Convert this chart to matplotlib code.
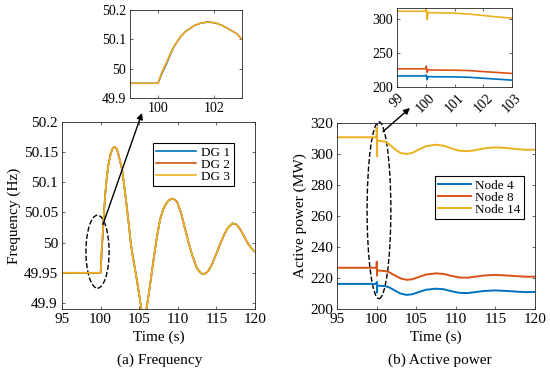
import numpy as np
import matplotlib.pyplot as plt
from matplotlib.patches import Ellipse, ConnectionPatch
from matplotlib.ticker import FormatStrFormatter

plt.rcParams['font.family'] = 'serif'
plt.rcParams['font.serif'] = ['Liberation Serif', 'DejaVu Serif']

# Frequency data (Hz)
t_f = [95, 100, 100.05, 100.15, 100.3, 100.45, 100.6, 100.8, 101.0, 101.3, 101.55, 101.8,
       102.05, 102.3, 102.55, 102.8, 103.0, 103.3, 103.6, 103.9, 104.2, 104.5, 104.8, 105.1,
       105.35, 105.55, 105.75, 106.0, 106.3, 106.6, 106.9, 107.3, 107.7, 108.1, 108.5, 108.9,
       109.4, 109.9, 110.4, 110.9, 111.4, 111.9, 112.4, 112.8, 113.2, 113.6, 114.0, 114.5,
       115.0, 115.5, 116.0, 116.5, 117.1, 117.6, 118.1, 118.6, 119.1, 119.6, 120]
dg3 = [49.95, 49.95, 49.965, 49.99, 50.02, 50.053, 50.08, 50.108, 50.128, 50.147, 50.156, 50.159,
       50.156, 50.147, 50.134, 50.12, 50.1, 50.07, 50.036, 50.0, 49.975, 49.953, 49.93, 49.905,
       49.885, 49.875, 49.878, 49.895, 49.92, 49.948, 49.975, 50.01, 50.038, 50.055, 50.065, 50.071,
       50.073, 50.068, 50.05, 50.025, 50.0, 49.978, 49.96, 49.952, 49.948, 49.949, 49.954, 49.966,
       49.982, 49.998, 50.013, 50.025, 50.032, 50.03, 50.022, 50.01, 49.998, 49.99, 49.985]
dg2 = list(dg3)
dg1 = list(dg3)
dg1[2:6] = [49.962, 49.985, 50.015, 50.05]

# Active power data (MW)
t_p = [95, 100.0, 100.02, 100.05, 100.08, 100.3, 101.0, 101.5, 102.0, 102.5, 103.0, 103.8,
       104.5, 105.3, 106.2, 107.5, 108.5, 109.5, 110.5, 111.5, 112.5, 113.5, 115.0, 116.5,
       118.0, 119.0, 120]
node14 = [310.8, 310.8, 317.0, 298.5, 309.0, 308.5, 308.0, 306.7, 304.5, 302.4, 300.7, 300.0,
          300.7, 302.8, 305.0, 306.0, 305.3, 303.5, 302.1, 301.8, 302.5, 303.6, 304.3, 303.8,
          303.0, 302.7, 302.8]
node8 = [226.6, 226.6, 230.5, 221.5, 225.0, 224.8, 224.5, 224.0, 222.5, 221.2, 219.8, 218.8,
         219.2, 220.6, 222.2, 223.0, 222.6, 221.3, 220.3, 220.2, 220.9, 221.6, 222.0, 221.6,
         221.1, 220.8, 220.9]
node4 = [216.2, 216.2, 217.5, 210.5, 215.2, 215.0, 214.8, 214.2, 212.8, 211.4, 210.0, 209.1,
         209.5, 210.9, 212.4, 213.1, 212.7, 211.4, 210.4, 210.3, 210.9, 211.6, 212.0, 211.6,
         211.1, 210.9, 211.0]

blue, red, yellow = '#0072BD', '#D95319', '#EDB120'
fs = 11


def style(ax, size=fs):
    ax.tick_params(direction='in', top=True, right=True, length=2.5, width=0.5,
                   labelsize=size, colors='0.15', labelcolor='k', pad=3)
    for s in ax.spines.values():
        s.set_linewidth(0.6)
        s.set_color('0.15')


fig = plt.figure(figsize=(5.5, 3.72), dpi=100)

# (a) Frequency
ax1 = fig.add_axes([62 / 550, 63 / 372, 193 / 550, 187 / 372])
ax1.plot(t_f, dg1, color=blue, lw=1.2, label='DG 1')
ax1.plot(t_f, dg2, color=red, lw=1.2, label='DG 2')
ax1.plot(t_f, dg3, color=yellow, lw=1.2, label='DG 3')
ax1.set_xlim(95, 120)
ax1.set_ylim(49.89, 50.2)
ax1.set_xticks([95, 100, 105, 110, 115, 120])
ax1.set_yticks([49.9, 49.95, 50, 50.05, 50.1, 50.15, 50.2])
ax1.yaxis.set_major_formatter(FormatStrFormatter('%g'))
ax1.set_xlabel('Time (s)', fontsize=fs, labelpad=3)
ax1.set_ylabel('Frequency (Hz)', fontsize=fs, labelpad=2)
style(ax1)
ax1.legend(loc='upper left', bbox_to_anchor=(153 / 550, 1 - 143 / 372),
           bbox_transform=fig.transFigure, fontsize=9.5, frameon=True, fancybox=False,
           edgecolor='k', framealpha=1, labelspacing=0.0, handlelength=3.0,
           handletextpad=0.4, borderpad=0.25, borderaxespad=0)
ax1.get_legend().get_frame().set_linewidth(0.8)
ax1.add_patch(Ellipse((99.6, 49.985), 3.0, 0.121, fill=False, ls='--', lw=1.0, ec='k'))
fig.text(160 / 550, 1 - 360 / 372, '(a) Frequency', ha='center', va='center', fontsize=fs)

ins1 = fig.add_axes([130 / 550, 274 / 372, 112 / 550, 88 / 372])
ins1.plot(t_f, dg1, color=blue, lw=1.0)
ins1.plot(t_f, dg2, color=red, lw=1.0)
ins1.plot(t_f, dg3, color=yellow, lw=1.0)
ins1.set_xlim(99, 103)
ins1.set_ylim(49.9, 50.2)
ins1.set_xticks([100, 102])
ins1.set_yticks([49.9, 50, 50.1, 50.2])
ins1.yaxis.set_major_formatter(FormatStrFormatter('%g'))
style(ins1, 10)

fig.add_artist(ConnectionPatch(xyA=(100.3, 50.03), coordsA=ax1.transData,
                               xyB=(142, 259), coordsB='figure pixels',
                               arrowstyle='-|>', mutation_scale=9, lw=1.0, color='k',
                               shrinkA=0, shrinkB=0))

# (b) Active power
ax2 = fig.add_axes([337 / 550, 63 / 372, 198 / 550, 186 / 372])
ax2.plot(t_p, node4, color=blue, lw=1.4, label='Node 4')
ax2.plot(t_p, node8, color=red, lw=1.4, label='Node 8')
ax2.plot(t_p, node14, color=yellow, lw=1.4, label='Node 14')
ax2.set_xlim(95, 120)
ax2.set_ylim(200, 320)
ax2.set_xticks([95, 100, 105, 110, 115, 120])
ax2.set_yticks([200, 220, 240, 260, 280, 300, 320])
ax2.set_xlabel('Time (s)', fontsize=fs, labelpad=3)
ax2.set_ylabel('Active power (MW)', fontsize=fs, labelpad=2)
style(ax2)
ax2.legend(loc='upper left', bbox_to_anchor=(435 / 550, 1 - 176 / 372),
           bbox_transform=fig.transFigure, fontsize=9.5, frameon=True, fancybox=False,
           edgecolor='k', framealpha=1, labelspacing=0.0, handlelength=2.5,
           handletextpad=0.3, borderpad=0.25, borderaxespad=0)
ax2.get_legend().get_frame().set_linewidth(0.8)
e2 = Ellipse((100.3, 263.7), 3.0, 114, fill=False, ls='--', lw=1.0, ec='k', clip_on=False)
ax2.add_patch(e2)
fig.text(440 / 550, 1 - 360 / 372, '(b) Active power', ha='center', va='center', fontsize=fs)

ins2 = fig.add_axes([397 / 550, 285 / 372, 115 / 550, 79 / 372])
ins2.plot(t_p, node4, color=blue, lw=1.2)
ins2.plot(t_p, node8, color=red, lw=1.2)
ins2.plot(t_p, node14, color=yellow, lw=1.2)
ins2.set_xlim(99, 103)
ins2.set_ylim(200, 315.5)
ins2.set_xticks([99, 100, 101, 102, 103])
ins2.set_yticks([200, 250, 300])
style(ins2, 10)
plt.setp(ins2.get_xticklabels(), rotation=45, ha='center', va='top', rotation_mode='default')

fig.add_artist(ConnectionPatch(xyA=(100.8, 314.4), coordsA=ax2.transData,
                               xyB=(410, 264), coordsB='figure pixels',
                               arrowstyle='-|>', mutation_scale=9, lw=1.0, color='k',
                               shrinkA=0, shrinkB=0))

fig.savefig('out.png', dpi=100)
